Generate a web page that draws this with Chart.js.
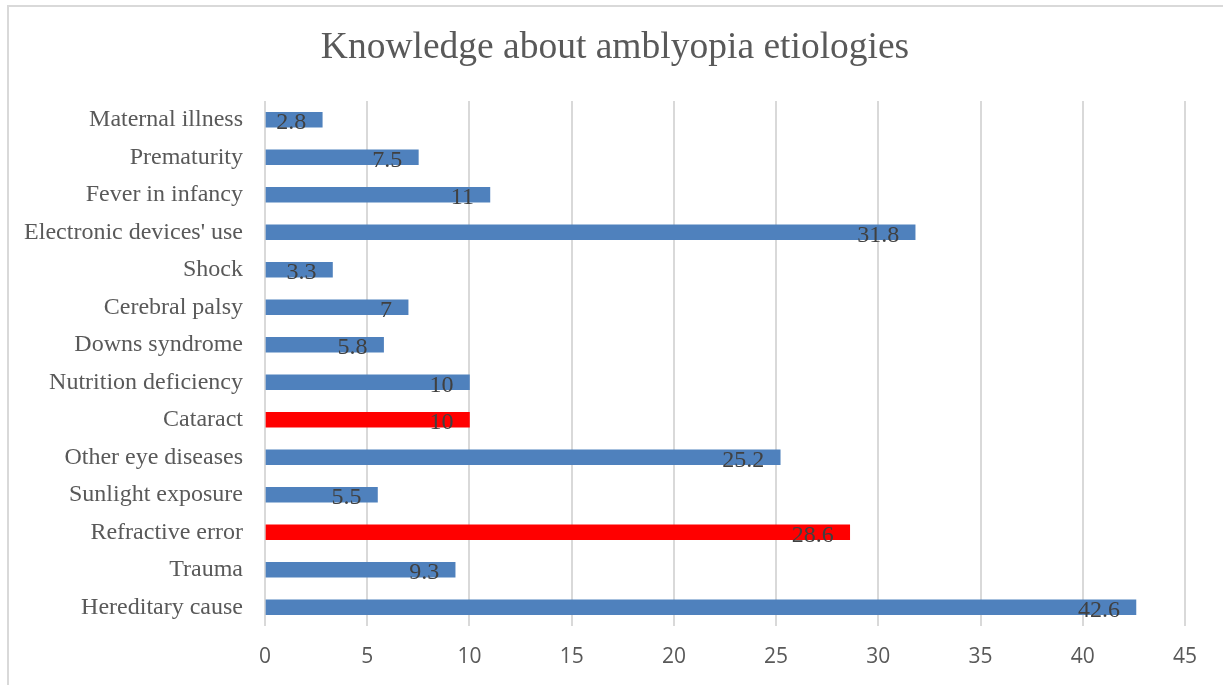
<!DOCTYPE html>
<html>
<head>
<meta charset="utf-8">
<script src="https://cdn.jsdelivr.net/npm/chart.js@4/dist/chart.umd.min.js"></script>
<style>
  html, body { margin: 0; padding: 0; background: #fff; }
  #wrap { width: 1223px; height: 685px; position: relative; }
</style>
</head>
<body>
<div id="wrap"><canvas id="chart"></canvas></div>
<script>
const categories = [
    'Maternal illness', 'Prematurity', 'Fever in infancy', "Electronic devices' use",
    'Shock', 'Cerebral palsy', 'Downs syndrome', 'Nutrition deficiency',
    'Cataract', 'Other eye diseases', 'Sunlight exposure', 'Refractive error',
    'Trauma', 'Hereditary cause'
];
const values = [2.8, 7.5, 11, 31.8, 3.3, 7, 5.8, 10, 10, 25.2, 5.5, 28.6, 9.3, 42.6];
const highlighted = ['Cataract', 'Refractive error'];
const xTicks = [0, 5, 10, 15, 20, 25, 30, 35, 40, 45];
const chartTitle = 'Knowledge about amblyopia etiologies';

const BLUE = '#4f81bd';
const RED = '#ff0000';
const SERIF = '"Liberation Serif", "Times New Roman", serif';

// value labels drawn just inside the bar end
const barLabels = {
    id: 'barLabels',
    afterDatasetsDraw(chart) {
        const ctx = chart.ctx;
        const meta = chart.getDatasetMeta(0);
        ctx.save();
        ctx.font = '24px ' + SERIF;
        ctx.fillStyle = '#404040';
        ctx.textAlign = 'right';
        ctx.textBaseline = 'middle';
        meta.data.forEach((bar, i) => {
            ctx.fillText(String(values[i]), bar.x - 16, bar.y + 3);
        });
        ctx.restore();
    }
};

// outer frame (only top and left edges show) + title centred on the whole image
const frame = {
    id: 'frame',
    beforeDraw(chart) {
        const ctx = chart.ctx;
        ctx.save();
        ctx.fillStyle = '#fff';
        ctx.fillRect(0, 0, chart.width, chart.height);
        ctx.strokeStyle = '#d9d9d9';
        ctx.lineWidth = 2;
        ctx.beginPath();
        ctx.moveTo(8, chart.height);
        ctx.lineTo(8, 6);
        ctx.lineTo(chart.width, 6);
        ctx.stroke();

        ctx.font = '37.5px ' + SERIF;
        ctx.fillStyle = '#595959';
        ctx.textAlign = 'center';
        ctx.textBaseline = 'alphabetic';
        ctx.fillText(chartTitle, 615, 58);
        ctx.restore();
    }
};

new Chart(document.getElementById('chart'), {
    type: 'bar',
    data: {
        labels: categories,
        datasets: [{
            data: values,
            backgroundColor: categories.map(c => highlighted.includes(c) ? RED : BLUE),
            borderWidth: 0,
            barThickness: 15
        }]
    },
    options: {
        indexAxis: 'y',
        responsive: true,
        maintainAspectRatio: false,
        animation: false,
        layout: { padding: { left: 0, right: 38, top: 101, bottom: 0 } },
        plugins: {
            legend: { display: false },
            tooltip: { enabled: false },
            title: { display: false }
        },
        scales: {
            x: {
                min: 0,
                max: 45,
                afterBuildTicks(scale) {
                    scale.ticks = xTicks.map(v => ({ value: v }));
                },
                afterFit(scale) { scale.height = 59; },
                grid: { color: '#d9d9d9', lineWidth: 2, drawTicks: false },
                border: { display: false },
                ticks: {
                    color: '#595959',
                    padding: 18,
                    font: { family: '"Open Sans", "Liberation Sans", sans-serif', size: 21 }
                }
            },
            y: {
                afterFit(scale) { scale.width = 265; },
                grid: { display: false, drawTicks: false },
                border: { display: false },
                ticks: {
                    color: '#595959',
                    padding: 22,
                    font: { family: SERIF, size: 24 }
                }
            }
        }
    },
    plugins: [frame, barLabels]
});
</script>
</body>
</html>
